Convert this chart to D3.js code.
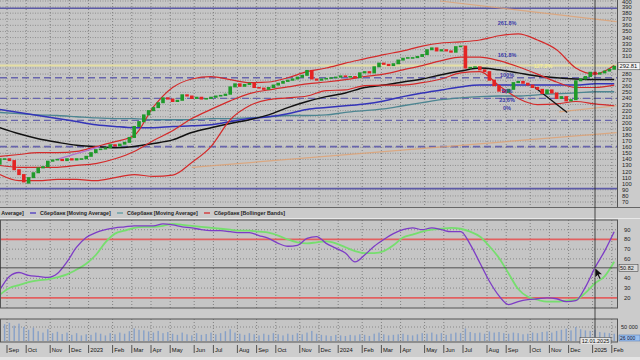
<!DOCTYPE html>
<html>
<head>
<meta charset="utf-8">
<script src="https://cdn.jsdelivr.net/npm/d3@7"></script>
<style>
  body { margin: 0; background: #c9c9c9; }
  svg { display: block; font-family: "Liberation Sans", Arial, sans-serif; }
</style>
</head>
<body>
<div id="chart"></div>
<script>
// Сбербанк, weekly candles with MA, Bollinger Bands, Stochastic and volume

// Weekly bars (Mondays)
var weeks = d3.timeMonday.range(new Date(2022, 7, 22), new Date(2025, 1, 4));

var opens = [132,141,141,138,123,115,101,110,118,126,128,137,139,140,138,141,139,141,141,145,
  151,156,157,159,164,162,165,168,176,194,202,213,220,225,233,241,239,235,237,246,
  244,240,242,239,240,242,244,245,247,259,264,260,263,265,258,257,255,258,262,265,
  268,270,272,275,278,286,272,270,272,273,274,275,277,276,276,274,282,284,282,292,
  298,296,294,297,303,306,307,307,309,312,320,323,318,320,318,316,325,326,290,291,
  292,287,284,270,261,252,250,255,266,268,265,262,258,255,248,254,249,240,243,236,
  238,269,272,276,283,280,282,285,288];
var closes = [141,141,138,123,115,103,110,118,126,128,137,139,140,138,141,139,141,141,145,151,
  156,157,159,164,162,165,168,176,194,202,213,220,225,233,241,239,235,237,246,244,
  240,242,239,240,242,244,245,247,259,264,260,263,265,258,257,255,258,262,265,268,
  270,272,275,278,286,272,270,272,273,274,275,277,276,276,274,282,284,282,292,298,
  296,294,297,303,306,307,307,309,312,320,323,318,320,318,316,325,326,290,291,292,
  287,284,270,261,252,250,255,266,268,265,262,258,255,248,254,249,240,243,236,238,
  269,272,276,283,280,282,285,288,292.81];
// volume, thousands
var volumes = [45,60,65,55,62,50,40,48,35,30,42,28,33,
  25,30,22,28,20,24,22,30,26,20,28,24,
  30,26,35,45,40,38,34,30,36,28,32,26,
  22,30,24,20,28,22,25,30,24,28,35,42,
  30,26,22,28,24,20,26,22,28,24,20,26,
  22,28,24,30,36,26,22,20,18,22,20,18,
  22,20,24,22,18,26,30,24,20,22,24,26,
  22,20,24,28,26,30,24,28,22,26,30,28,
  45,32,28,30,26,34,30,32,28,26,30,28,
  24,26,30,28,32,34,30,36,40,44,38,50,
  42,38,36,40,32,30,28,26];

// Indicator lines, read every 4th week
var maBlack = [192,182,174,168,163,161,159,161,166,172,184,192,199,205,213,225,235,243,249,258,
  262,267,272,279,285,290,287,282,277,274,272,271,271];
var maBlue = [222,217,212,207,202,197,194,192,192,194,195,197,202,207,210,215,222,225,228,231,
  236,243,249,254,259,262,262,262,262,262,262,264,264];
var maTeal = [217,215,213,212,210,208,207,207,205,205,205,207,207,208,210,212,212,213,217,220,
  223,228,233,238,241,243,244,244,246,248,249,251,251];
var bbUpper = [145,148,151,151,153,161,169,179,226,258,272,276,271,266,267,274,284,290,298,305,
  312,318,326,331,333,336,343,346,336,320,290,280,294];
var bbMiddle = [130,127,127,127,130,133,141,153,171,187,207,222,236,248,254,259,264,267,271,276,
  280,287,294,302,308,308,302,292,280,267,258,258,262];
var bbLower = [115,105,105,107,107,105,110,115,112,114,135,161,205,228,238,241,244,253,254,261,
  262,262,266,272,282,284,261,240,230,231,235,231,228];

// Stochastic, read every 2nd week
var stochK = [28,42,46,43,42,41,45,57,72,82,87,90,92,93,94,94,94,96,95,93,
  92,90,89,89,88,87,87,84,81,76,73,74,81,83,76,71,66,57,64,73,
  80,86,90,92,90,92,90,88,88,75,56,37,22,13,16,18,19,20,19,16,
  17,31,51,68,88];
var stochD = [23,30,33,36,38,39,41,44,49,55,64,77,86,89,92,93,93,94,96,95,
  94,93,92,91,90,89,89,88,87,84,80,77,76,77,78,76,72,68,66,66,
  68,74,82,85,88,90,91,92,91,88,83,73,61,45,29,21,18,16,16,17,
  18,25,35,42,57];

var priceTicks = d3.range(70, 401, 10);
var stochTicks = [20, 30, 40, 60, 70, 80, 90];
var solidLevels = [388, 92];
var dashedLevels = [274, 240, 204, 161];
var fibLabels = ["261.8%", "161.8%", "127.2%", "100%", "50%", "23.6%", "0%"];
var fibValues = [364, 312, 294, 279, 252, 238, 225];
// drawn trend lines: [week index, price]
var orangeLines = [[[40, 127], [128.5, 184]], [[91.7, 400], [128.5, 366]], [[116.5, 218], [128.5, 228]]];
var blackTrend = [[111.5, 258], [118.2, 217]];
var violetTrend = [[11.9, 140], [20.9, 161]];
var lastPrice = 292.81;
var crossIndex = 124, crossLabel = "12.01.2025", crossStoch = "50.82";
var legendNames = ["Сбербанк [Moving Average]", "Сбербанк [Moving Average]",
  "Сбербанк [Moving Average]", "Сбербанк [Bollinger Bands]"];

var svgWidth = 640, svgHeight = 360;
var plotRight = 617;
var main = { top: 0, bottom: 207 };
var stoch = { top: 220, bottom: 308 };
var vol = { top: 319, bottom: 342 };

var svg = d3.select("#chart").append("svg")
  .attr("width", svgWidth).attr("height", svgHeight);

svg.append("rect").attr("width", svgWidth).attr("height", svgHeight).attr("fill", "#cbcbcb");

var x = d3.scaleLinear().domain([0, 128]).range([-0.2, 614.2]);
var y = d3.scaleLinear().domain([70, 400]).range([202, 1]);
var ys = d3.scaleLinear().domain([10, 100]).range([307.5, 220]);
var yv = d3.scaleLinear().domain([0, 50]).range([341, 327]);

var ma4 = d3.range(0, 129, 4);
var st2 = d3.range(0, 129, 2);

// month starts
var monthIdx = [];
weeks.forEach(function(w, i) {
  if (i > 0 && w.getMonth() !== weeks[i - 1].getMonth()) monthIdx.push(i);
});
var fmtMonth = d3.timeFormat("%b");

function panel(p) {
  var g = svg.append("g");
  g.append("rect").attr("x", 0).attr("y", p.top).attr("width", plotRight)
    .attr("height", p.bottom - p.top).attr("fill", "#c5c5c5");
  g.selectAll(".vg").data(monthIdx).enter().append("line")
    .attr("x1", d => x(d) - 2.4).attr("x2", d => x(d) - 2.4)
    .attr("y1", p.top).attr("y2", p.bottom)
    .attr("stroke", "#6e6e6e").attr("stroke-width", 0.8).attr("stroke-dasharray", "1,2");
  return g;
}

svg.append("clipPath").attr("id", "clipMain").append("rect")
  .attr("x", 0).attr("y", main.top).attr("width", plotRight).attr("height", main.bottom - main.top);
svg.append("clipPath").attr("id", "clipStoch").append("rect")
  .attr("x", 0).attr("y", stoch.top).attr("width", plotRight).attr("height", stoch.bottom - stoch.top);

// ---------- main price panel
var gMain = panel(main);
gMain.selectAll(".hg").data(priceTicks).enter().append("line")
  .attr("x1", 0).attr("x2", plotRight).attr("y1", d => y(d)).attr("y2", d => y(d))
  .attr("stroke", "#7a7a7a").attr("stroke-width", 0.7).attr("stroke-dasharray", "1,1.5");

var gm = svg.append("g").attr("clip-path", "url(#clipMain)");

// pale 127.2% level band
gm.append("line").attr("x1", 0).attr("x2", plotRight).attr("y1", y(fibValues[2])).attr("y2", y(fibValues[2]))
  .attr("stroke", "#e6dfa4").attr("stroke-width", 2);

gm.selectAll(".sl").data(solidLevels).enter().append("line")
  .attr("x1", 0).attr("x2", plotRight).attr("y1", d => y(d)).attr("y2", d => y(d))
  .attr("stroke", "#5d5aa6").attr("stroke-width", 1.6);
gm.selectAll(".dl").data(dashedLevels).enter().append("line")
  .attr("x1", 0).attr("x2", plotRight).attr("y1", d => y(d)).attr("y2", d => y(d))
  .attr("stroke", "#6865ac").attr("stroke-width", (d, i) => i === 3 ? 1.8 : 1.3)
  .attr("stroke-dasharray", "7,4");

var segLine = d3.line().x(d => x(d[0])).y(d => y(d[1]));
gm.selectAll(".ol").data(orangeLines).enter().append("path")
  .attr("d", segLine).attr("fill", "none").attr("stroke", "#e0a070").attr("stroke-width", 1.2).attr("opacity", 0.8);

function maLine(arr) {
  return d3.line().x((d, k) => x(ma4[k])).y(d => y(d)).curve(d3.curveMonotoneX)(arr);
}
gm.append("path").attr("d", maLine(maTeal)).attr("fill", "none").attr("stroke", "#4d8591").attr("stroke-width", 1.3);
gm.append("path").attr("d", maLine(maBlue)).attr("fill", "none").attr("stroke", "#3434b8").attr("stroke-width", 1.5);
gm.append("path").attr("d", maLine(maBlack)).attr("fill", "none").attr("stroke", "#111").attr("stroke-width", 1.5);
[bbUpper, bbMiddle, bbLower].forEach(function(arr) {
  gm.append("path").attr("d", maLine(arr)).attr("fill", "none").attr("stroke", "#d42a2a").attr("stroke-width", 1.2);
});
gm.append("path").attr("d", segLine(violetTrend)).attr("stroke", "#b070d0").attr("stroke-width", 1.2);
gm.append("path").attr("d", segLine(blackTrend)).attr("stroke", "#111").attr("stroke-width", 1.3);

// candles
gm.selectAll(".candle").data(closes).enter().append("rect")
  .attr("x", (d, i) => x(i) - 1.8)
  .attr("width", 3.6)
  .attr("y", (d, i) => y(Math.max(d, opens[i])) - 0.5)
  .attr("height", (d, i) => Math.max(1.6, Math.abs(y(d) - y(opens[i])) + 1))
  .attr("fill", (d, i) => d >= opens[i] ? "#1f9a2a" : "#e42424");

// fibonacci labels
gm.selectAll(".fib").data(fibLabels).enter().append("text")
  .attr("x", (d, i) => i === 2 ? 543 : 507)
  .attr("y", (d, i) => y(fibValues[i]) + 2)
  .attr("text-anchor", "middle")
  .style("font-size", "5.5px").style("font-weight", "bold")
  .style("fill", (d, i) => i === 2 ? "#f2ec9c" : "#3a3aa8")
  .text(d => d);

// price axis
svg.append("line").attr("x1", plotRight + 0.5).attr("x2", plotRight + 0.5).attr("y1", 0).attr("y2", main.bottom)
  .attr("stroke", "#555");
svg.selectAll(".pt").data(priceTicks.filter(d => Math.abs(y(d) - y(lastPrice)) > 4.5)).enter().append("text")
  .attr("x", 622).attr("y", d => Math.max(y(d) + 2, 4.3))
  .style("font-size", "5.8px").style("fill", "#222").text(d => d);
svg.append("rect").attr("x", 618).attr("y", y(lastPrice) - 3.5).attr("width", 22).attr("height", 7)
  .attr("fill", "#f4f4f4").attr("stroke", "#333").attr("stroke-width", 0.5);
svg.append("text").attr("x", 619.5).attr("y", y(lastPrice) + 2)
  .style("font-size", "5.8px").style("fill", "#111").text(d3.format(".2f")(lastPrice));

svg.append("line").attr("x1", 0).attr("x2", svgWidth).attr("y1", main.bottom + 0.5).attr("y2", main.bottom + 0.5)
  .attr("stroke", "#666");

// legend (scrolled left: first item partly hidden, as in the terminal)
var legendColors = ["#111", "#4a36c0", "#5a9aa0", "#d42a2a"];
var lg = svg.append("g").attr("transform", "translate(-57, 213)");
legendNames.forEach(function(name, i) {
  var gx = i * 87;
  lg.append("line").attr("x1", gx).attr("x2", gx + 6).attr("y1", 0).attr("y2", 0)
    .attr("stroke", legendColors[i]).attr("stroke-width", 1.3);
  lg.append("text").attr("x", gx + 10).attr("y", 2).style("font-size", "5.3px").style("font-weight", "bold")
    .style("fill", "#222").text(name);
});
svg.append("line").attr("x1", 0).attr("x2", svgWidth).attr("y1", stoch.top - 1.5).attr("y2", stoch.top - 1.5)
  .attr("stroke", "#e8e8e8");

// ---------- stochastic panel
var gSt = panel(stoch);
gSt.selectAll(".sg").data([30, 40, 60, 70, 90]).enter().append("line")
  .attr("x1", 0).attr("x2", plotRight).attr("y1", d => ys(d)).attr("y2", d => ys(d))
  .attr("stroke", "#6e6e6e").attr("stroke-width", 0.7).attr("stroke-dasharray", "1,2");
var gs = svg.append("g").attr("clip-path", "url(#clipStoch)");
gs.selectAll(".rl").data([80, 20]).enter().append("line")
  .attr("x1", 0).attr("x2", plotRight).attr("y1", d => ys(d)).attr("y2", d => ys(d))
  .attr("stroke", "#e26060").attr("stroke-width", 1.8);
var stLine = d3.line().x((d, k) => x(st2[k])).y(d => ys(d)).curve(d3.curveMonotoneX);
gs.append("path").attr("d", stLine(stochD)).attr("fill", "none").attr("stroke", "#76de6e").attr("stroke-width", 1.8);
gs.append("path").attr("d", stLine(stochK)).attr("fill", "none").attr("stroke", "#7d3cc6").attr("stroke-width", 1.3);
svg.append("rect").attr("x", 0.5).attr("y", stoch.top).attr("width", plotRight).attr("height", stoch.bottom - stoch.top)
  .attr("fill", "none").attr("stroke", "#555");
svg.selectAll(".stt").data(stochTicks).enter().append("text")
  .attr("x", 624).attr("y", d => ys(d) + 2)
  .style("font-size", "5.8px").style("fill", "#222").text(d => d);
// crosshair value
var crossY = ys(+crossStoch);
svg.append("line").attr("x1", 0).attr("x2", plotRight).attr("y1", crossY).attr("y2", crossY)
  .attr("stroke", "#333").attr("stroke-width", 0.8);
svg.append("rect").attr("x", 619).attr("y", crossY - 3.5).attr("width", 19).attr("height", 7)
  .attr("fill", "#d8d8d8").attr("stroke", "#333").attr("stroke-width", 0.5);
svg.append("text").attr("x", 620).attr("y", crossY + 2).style("font-size", "5.5px").style("fill", "#111").text(crossStoch);

// ---------- volume panel
var gV = panel(vol);
gV.append("line").attr("x1", 0).attr("x2", plotRight).attr("y1", yv(50)).attr("y2", yv(50))
  .attr("stroke", "#6e6e6e").attr("stroke-width", 0.7).attr("stroke-dasharray", "1,2");
gV.selectAll(".vb").data(volumes).enter().append("rect")
  .attr("x", (d, i) => x(i) - 0.7).attr("width", 1.4)
  .attr("y", d => yv(d)).attr("height", d => yv(0) - yv(d))
  .attr("fill", "#86a0c8");
svg.append("rect").attr("x", 0.5).attr("y", vol.top).attr("width", plotRight).attr("height", vol.bottom - vol.top)
  .attr("fill", "none").attr("stroke", "#555");
svg.append("text").attr("x", 621).attr("y", yv(50) + 2).style("font-size", "5.5px").style("fill", "#222").text("50 000");
svg.append("rect").attr("x", 619).attr("y", 335).attr("width", 21).attr("height", 6)
  .attr("fill", "#9cc0ee").attr("stroke", "#4a70b0").attr("stroke-width", 0.5);
svg.append("text").attr("x", 620).attr("y", 339.8).style("font-size", "5px").style("fill", "#113")
  .text(d3.format(",")(volumes[128] * 1000).replace(",", " "));

// ---------- crosshair
var cx = x(crossIndex);
svg.append("line").attr("x1", cx).attr("x2", cx).attr("y1", 0).attr("y2", vol.bottom)
  .attr("stroke", "#222").attr("stroke-width", 0.8);
svg.append("rect").attr("x", cx - 15).attr("y", 337.5).attr("width", 31).attr("height", 7)
  .attr("fill", "#e4e4e4").attr("stroke", "#333").attr("stroke-width", 0.5);
svg.append("text").attr("x", cx + 0.5).attr("y", 343).attr("text-anchor", "middle")
  .style("font-size", "5.5px").style("fill", "#111").text(crossLabel);
svg.append("path")
  .attr("d", `M${cx},${crossY} l0,10 l2.5,-2.5 l2,4 l1.5,-0.8 l-2,-4 l3.5,0 z`)
  .attr("fill", "#111").attr("stroke", "#eee").attr("stroke-width", 0.4);

// ---------- date axis
var gx = svg.append("g");
gx.append("rect").attr("x", 0).attr("y", 344).attr("width", svgWidth).attr("height", 13).attr("fill", "#cdcdcd");
gx.selectAll(".mt").data(monthIdx).enter().append("line")
  .attr("x1", d => x(d) - 2.4).attr("x2", d => x(d) - 2.4).attr("y1", 345).attr("y2", 353)
  .attr("stroke", "#333").attr("stroke-width", 0.8);
gx.selectAll(".ml").data(monthIdx).enter().append("text")
  .attr("x", d => x(d) - 0.8).attr("y", 351.5)
  .style("font-size", "5.8px").style("fill", "#111")
  .text(d => weeks[d].getMonth() === 0 ? weeks[d].getFullYear() : fmtMonth(weeks[d]));
gx.append("rect").attr("x", 0).attr("y", 357).attr("width", svgWidth).attr("height", 3).attr("fill", "#e4e4e4");
</script>
</body>
</html>
